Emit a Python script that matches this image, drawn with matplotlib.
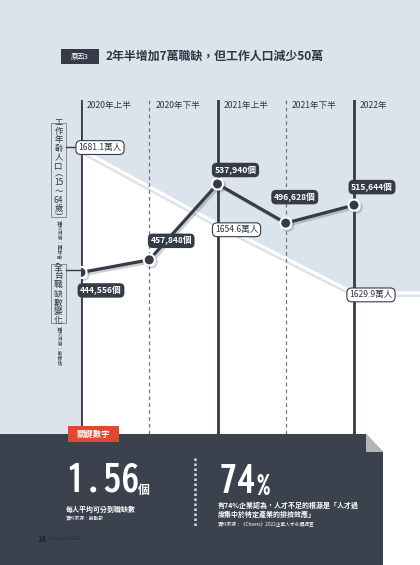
import os
import matplotlib.pyplot as plt
import matplotlib.patheffects as pe
from matplotlib import font_manager
from matplotlib.font_manager import FontProperties
from matplotlib.patches import Rectangle, Polygon

plt.rcParams['font.family'] = ['Noto Sans CJK TC', 'DejaVu Sans']

# DATA
periods = ['2020年上半', '2020年下半', '2021年上半', '2021年下半', '2022年']
vacancy = [444556, 457848, 537940, 496628, 515644]
pop_pos = [0, 2, 4]
population = [1681.1, 1654.6, 1629.9]

# label offsets (pixels, right / down) for the boxes
vac_off = [(20, 18), (22, -19), (18, -14), (9, -26), (18, -18)]
pop_off = [(19, -2), (19, 6), (17, 2)]

BG = '#dbe3ed'
DARK = '#353c48'
PANEL = '#3b424e'
RED = '#e2472f'
TXT = '#2f3641'

# look for a condensed bold face for the big numbers
big_file = None
for key in ['CondensedBold', 'Condensed-Bold', 'NarrowBold', 'Narrow-Bold', 'SemiCondensedBold']:
    for f in font_manager.fontManager.ttflist:
        if key.lower() in os.path.basename(f.fname).lower():
            big_file = f.fname
            break
    if big_file:
        break
if big_file:
    BIG = FontProperties(fname=big_file)
    big_size = 33
else:
    BIG = FontProperties(family='Roboto', weight='bold')
    big_size = 29

fig = plt.figure(figsize=(4.2, 5.65), dpi=100)
fig.patch.set_facecolor(BG)
px = 0.72  # pixels -> points

# BACKGROUND LAYER (pixel coords)
bg = fig.add_axes([0, 0, 1, 1], zorder=0)
bg.set_xlim(0, 420)
bg.set_ylim(565, 0)
bg.axis('off')

# title
bg.add_patch(Rectangle((61, 49), 38, 15, fc=DARK, ec='none'))
bg.text(80, 56.5, '原因3', color='white', fontsize=5, ha='center', va='center')
bg.text(106, 56.5, '2年半增加7萬職缺，但工作人口減少50萬', color=TXT,
        fontsize=8.6, fontweight='bold', ha='left', va='center')

# vertical side labels
bg.add_patch(Rectangle((51, 123), 15, 94, fc='none', ec='#858c96', lw=0.7))
bg.text(58.5, 170, '\n'.join(['工', '作', '年', '齡', '人', '口', '︵', '15', '～', '64', '歲', '︶']),
        fontsize=6, color=TXT, ha='center', va='center', linespacing=0.95)
bg.plot([66, 81], [147, 147], color=DARK, lw=1)
bg.text(58.5, 240, '資料來源：國發會', rotation=-90, fontsize=3.6, color=TXT, ha='center', va='center')

bg.add_patch(Rectangle((51, 264), 15, 59, fc='none', ec='#858c96', lw=0.7))
bg.text(58.5, 293.5, '\n'.join('全台職缺數變化'), fontsize=6.3, color=TXT,
        ha='center', va='center', linespacing=1.0)
bg.plot([66, 81], [270, 270], color=DARK, lw=1)
bg.text(58.5, 346, '資料來源：勞動部', rotation=-90, fontsize=3.6, color=TXT, ha='center', va='center')

# CHART LAYER
x_max = 4 * (420 - 81) / (354 - 81)
ax = fig.add_axes([81 / 420, (565 - 434) / 565, (420 - 81) / 420, 334 / 565], zorder=1)
ax.set_xlim(0, x_max)
ax.set_ylim(1579.5, 1698.8)
ax.axis('off')

# white area below working-age population
fx = pop_pos + [x_max]
fy = population + [population[-1]]
ax.fill_between(fx, fy, 1500, color='white', lw=0, zorder=1)
ax.plot(fx, fy, color='white', lw=2.2, zorder=2,
        path_effects=[pe.SimpleLineShadow(offset=(0, -2), shadow_color='#9aa3ad', alpha=0.3),
                      pe.Normal()])

for i, p in enumerate(periods):
    if i % 2 == 0:
        ax.axvline(i, color=DARK, lw=2, zorder=3)
    else:
        ax.axvline(i, color='#6f7681', lw=0.9, ls=(0, (3, 2.5)), zorder=3)
    ax.annotate(p, xy=(i, 1), xycoords=ax.get_xaxis_transform(),
                xytext=(6 * px, -5.5 * px), textcoords='offset points',
                ha='left', va='center', fontsize=6.2, color=TXT)

for i, p in enumerate(population):
    dx, dy = pop_off[i]
    ax.annotate(f'{p}萬人', xy=(pop_pos[i], p), xytext=(dx * px, -dy * px),
                textcoords='offset points', ha='center', va='center',
                fontsize=6.2, color=TXT, zorder=6,
                bbox=dict(boxstyle='round,pad=0.28,rounding_size=0.55', fc='white', ec=DARK, lw=0.8))

ax2 = ax.twinx()
ax2.set_ylim(273944, 626637)
ax2.axis('off')
ax2.plot(range(len(vacancy)), vacancy, color=DARK, lw=2.3, zorder=4,
         marker='o', ms=8, mfc=DARK, mec='white', mew=1.5,
         path_effects=[pe.SimpleLineShadow(offset=(1.5, -1.5), shadow_color='#444', alpha=0.25),
                       pe.Normal()])
for i, v in enumerate(vacancy):
    dx, dy = vac_off[i]
    ax2.annotate(f'{v:,}個', xy=(i, v), xytext=(dx * px, -dy * px),
                 textcoords='offset points', ha='center', va='center',
                 fontsize=6.2, color='white', fontweight='bold', zorder=6,
                 bbox=dict(boxstyle='round,pad=0.3,rounding_size=0.55', fc=DARK, ec='none'))

# BOTTOM PANEL LAYER (pixel coords)
top = fig.add_axes([0, 0, 1, 1], zorder=3)
top.set_xlim(0, 420)
top.set_ylim(565, 0)
top.axis('off')
top.patch.set_alpha(0)

top.add_patch(Rectangle((0, 434), 420, 131, fc='white', ec='none'))
top.add_patch(Polygon([(0, 434), (366, 434), (383, 452), (383, 565), (0, 565)], fc=PANEL, ec='none'))
top.add_patch(Polygon([(366, 434), (366, 452), (383, 452)], fc='#b4b5ba', ec='none'))

top.add_patch(Rectangle((68, 426), 51, 16, fc=RED, ec='none'))
top.text(93.5, 434, '關鍵數字', color='white', fontsize=6, fontweight='bold', ha='center', va='center')

t1 = top.text(66, 492, '1.56', fontproperties=BIG, fontsize=big_size, color='white',
              ha='left', va='baseline')
top.annotate('個', xy=(1, 0), xycoords=t1, xytext=(-1, 2), textcoords='offset points',
             fontsize=8.5, fontweight='bold', color='white', ha='left', va='bottom')
top.text(66, 509, '每人平均可分到職缺數', fontsize=5, fontweight='bold', color='white', ha='left', va='center')
top.text(66, 518, '資料來源：勞動部', fontsize=3.4, color='white', ha='left', va='center')

top.plot([195, 195], [458, 527], color='#d8dce2', lw=1.8, ls=(0, (1, 1)))

t2 = top.text(219, 493, '74', fontproperties=BIG, fontsize=big_size, color='white',
              ha='left', va='baseline')
top.annotate('%', xy=(1, 0), xycoords=t2, xytext=(0.5, 0), textcoords='offset points',
             fontproperties=BIG, fontsize=big_size * 0.72, color='white', ha='left', va='bottom')
top.text(218, 505, '有74%企業認為，人才不足的根源是「人才過', fontsize=5, fontweight='bold', color='white',
         ha='left', va='center')
top.text(218, 514.5, '度集中於特定產業的排擠效應」', fontsize=5, fontweight='bold', color='white',
         ha='left', va='center')
top.text(218, 524.5, '資料來源：《Cheers》2022企業人才永續調查', fontsize=3.4, color='white',
         ha='left', va='center')

top.text(37, 539, '16', fontsize=5.5, fontweight='bold', color='#1d232c', ha='left', va='center')
top.text(49, 539, 'October 2022', fontsize=3.6, color='#262c35', ha='left', va='center')

fig.savefig('out.png', dpi=100, facecolor=BG)
